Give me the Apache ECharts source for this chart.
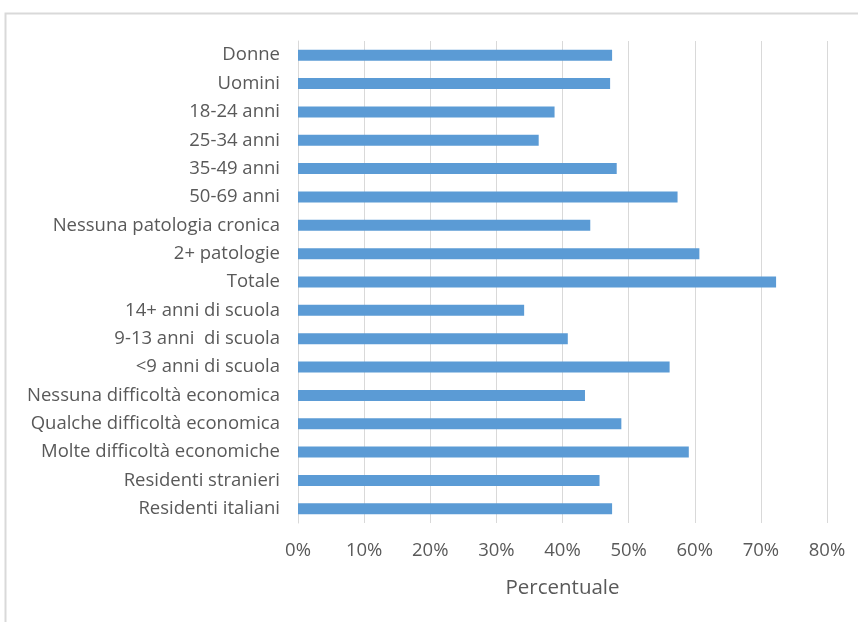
<!DOCTYPE html>
<html>
<head>
<meta charset="utf-8">
<script src="https://cdn.jsdelivr.net/npm/echarts@6/dist/echarts.min.js"></script>
<style>
  html, body { margin: 0; padding: 0; background: #fff; }
  #chart { width: 858px; height: 622px; }
</style>
</head>
<body>
<div id="chart"></div>
<script>
// categories from top to bottom, as in the picture
const categories = [
  'Donne', 'Uomini', '18-24 anni', '25-34 anni', '35-49 anni', '50-69 anni',
  'Nessuna patologia cronica', '2+ patologie', 'Totale', '14+ anni di scuola',
  '9-13 anni  di scuola', '<9 anni di scuola', 'Nessuna difficoltà economica',
  'Qualche difficoltà economica', 'Molte difficoltà economiche',
  'Residenti stranieri', 'Residenti italiani'
]
const values = [
  47.5, 47.2, 38.8, 36.4, 48.2, 57.4, 44.2, 60.7, 72.3, 34.2,
  40.8, 56.2, 43.4, 48.9, 59.1, 45.6, 47.5
]
const xMin = 0
const xMax = 80
const xStep = 10

const chart = echarts.init(document.getElementById('chart'))
const textColor = '#595959'
const font = 'Open Sans'

chart.setOption({
  animation: false,
  graphic: [{
    type: 'rect',
    shape: { x: 5.5, y: 13.5, width: 900, height: 700 },
    style: { fill: 'none', stroke: '#d9d9d9', lineWidth: 2 },
    silent: true
  }],
  grid: {
    left: 298,
    right: 31,
    top: 41,
    bottom: 99
  },
  xAxis: {
    type: 'value',
    min: xMin,
    max: xMax,
    interval: xStep,
    name: 'Percentuale',
    nameLocation: 'middle',
    nameGap: 55,
    nameTextStyle: { color: textColor, fontSize: 20.5, fontFamily: font },
    axisLine: { show: false },
    axisTick: { show: false },
    axisLabel: {
      color: textColor,
      fontSize: 18.5,
      fontFamily: font,
      margin: 18,
      formatter: v => v + '%'
    },
    splitLine: { show: true, lineStyle: { color: '#d9d9d9', width: 1 } }
  },
  yAxis: {
    type: 'category',
    data: categories,
    inverse: true,
    axisLine: { show: true, lineStyle: { color: '#d9d9d9' } },
    axisTick: { show: false },
    axisLabel: {
      color: textColor,
      fontSize: 18.5,
      fontFamily: font,
      margin: 18
    }
  },
  series: [{
    type: 'bar',
    data: values,
    barWidth: 11,
    itemStyle: { color: '#5b9bd5' }
  }]
})
</script>
</body>
</html>
